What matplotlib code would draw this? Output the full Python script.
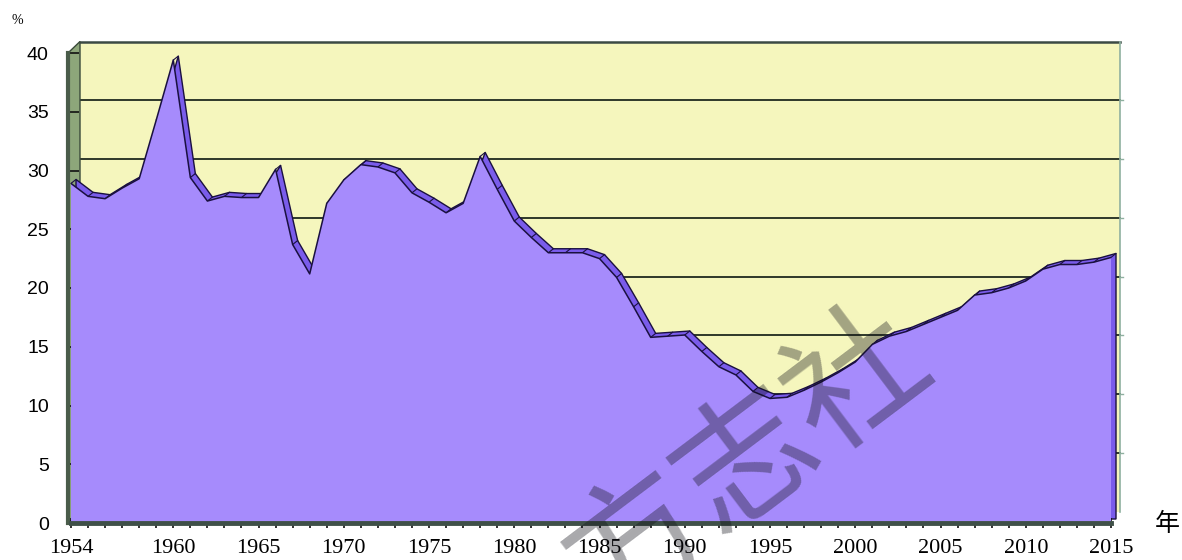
import matplotlib

matplotlib.use("Agg")
import matplotlib.pyplot as plt
from matplotlib.patches import Polygon, Rectangle
from matplotlib.transforms import ScaledTranslation

YEARS = list(range(1954, 2016))
RATE = [28.9, 27.8, 27.6, 28.5, 29.3, 34.3, 39.4, 29.4, 27.4, 27.8,
        27.7, 27.7, 30.1, 23.7, 21.2, 27.2, 29.2, 30.5, 30.3, 29.8,
        28.1, 27.3, 26.4, 27.2, 31.2, 28.4, 25.7, 24.3, 23.0, 23.0,
        23.0, 22.5, 20.9, 18.4, 15.8, 15.9, 16.0, 14.6, 13.3, 12.6,
        11.2, 10.6, 10.7, 11.3, 12.0, 12.8, 13.7, 15.2, 15.9, 16.3,
        16.9, 17.5, 18.1, 19.4, 19.6, 20.0, 20.6, 21.6, 22.0, 22.0,
        22.2, 22.6]
X_LABELS = [1954, 1960, 1965, 1970, 1975, 1980, 1985, 1990, 1995, 2000, 2005, 2010, 2015]
Y_TICKS = [0, 5, 10, 15, 20, 25, 30, 35, 40]

WALL_YELLOW = "#F5F6BD"
SIDE_GREEN = "#8DA67A"
AREA_PURPLE = "#A68BFC"
RIBBON_PURPLE = "#7A5CEB"
GRID_DARK = "#2E3829"

W, H = 1182, 560
fig = plt.figure(figsize=(W / 100, H / 100), dpi=100)
ax_left, ax_right, ax_bottom, ax_top = 71, 1111, 523, 53
ax = fig.add_axes([ax_left / W, 1 - ax_bottom / H, (ax_right - ax_left) / W, (ax_bottom - ax_top) / H])
x0, x1 = YEARS[0], YEARS[-1]
ax.set_xlim(x0, x1)
ax.set_ylim(0, 40)
ax.patch.set_visible(False)

# pixels per data unit, used for the fake 3-D depth
ppx = (ax_right - ax_left) / (x1 - x0)
ppy = (ax_bottom - ax_top) / 40
wall_dx, wall_dy = 9, 11.5
wall_tr = ax.transData + ScaledTranslation(wall_dx / 100, wall_dy / 100, fig.dpi_scale_trans)
depth_tr = ax.transData + ScaledTranslation(5 / 100, 4 / 100, fig.dpi_scale_trans)

# back wall with its gridlines
ax.add_patch(Rectangle((x0, 0), x1 - x0, 40, transform=wall_tr, facecolor=WALL_YELLOW,
                       edgecolor="none", zorder=0, clip_on=False))
for val in Y_TICKS[1:-1]:
    ax.plot([x0, x1], [val, val], transform=wall_tr, color=GRID_DARK, lw=1.4, zorder=0.5, clip_on=False)
ax.plot([x0, x1], [40, 40], transform=wall_tr, color="#3B4A44", lw=1.8, zorder=0.5, clip_on=False)
ax.plot([x1, x1], [0, 40], transform=wall_tr, color="#8FB0A0", lw=1.2, zorder=0.5, clip_on=False)
for val in Y_TICKS[1:-1]:
    ax.plot([x1, x1 + 3 / ppx], [val, val], transform=wall_tr, color="#8FB0A0", lw=1.0, zorder=0.5, clip_on=False)

# left side wall
side = Polygon([(x0 - 3 / ppx, 0), (x0 - 3 / ppx, 40),
                (x0 + wall_dx / ppx, 40 + wall_dy / ppy), (x0 + wall_dx / ppx, wall_dy / ppy)],
               closed=True, facecolor=SIDE_GREEN, edgecolor="#3A4A3A", lw=1.0, zorder=0.6, clip_on=False)
ax.add_patch(side)

# series depth (ribbon), then front face
area_pts = [(x0, 0)] + list(zip(YEARS, RATE)) + [(x1, 0)]
ax.add_patch(Polygon(area_pts, closed=True, transform=depth_tr, facecolor=RIBBON_PURPLE,
                     edgecolor="#1A1040", lw=1.0, zorder=1, clip_on=False))
for yr, val in zip(YEARS, RATE):
    ax.plot([yr, yr + 5 / ppx], [val, val + 4 / ppy], color="#1A1040", lw=0.8, zorder=1.5, clip_on=False)
ax.fill_between(YEARS, 0, RATE, facecolor=AREA_PURPLE, edgecolor="none", zorder=2)
ax.plot(YEARS, RATE, color="#1A1040", lw=1.1, zorder=2.5)

# axes
for name in ("top", "right"):
    ax.spines[name].set_visible(False)
ax.spines["left"].set_color("#4A5C4A")
ax.spines["left"].set_linewidth(3.0)
ax.spines["left"].set_bounds(0, 40)
ax.spines["left"].set_position(("outward", 2))
ax.spines["bottom"].set_color("#3F5048")
ax.spines["bottom"].set_linewidth(3.5)
ax.axhline(0, color="#111111", lw=1.0, zorder=3, clip_on=False)
for spine in ax.spines.values():
    spine.set_zorder(3)

ax.set_xticks(X_LABELS)
ax.set_xticks(YEARS, minor=True)
ax.set_xticklabels([str(y) for y in X_LABELS], family="Liberation Serif", fontsize=16)
ax.set_yticks(Y_TICKS)
ax.set_yticklabels([str(v) for v in Y_TICKS], family="Liberation Sans", fontsize=14)
ax.tick_params(axis="x", which="both", direction="inout", length=7, width=1.2, color="#111111", pad=8)
ax.tick_params(axis="y", direction="in", length=8, width=1.2, color="#111111", pad=14)

fig.text(17 / W, 1 - 20 / H, "%", fontsize=10, family="Liberation Serif", ha="center", va="center")
fig.text(1167 / W, 1 - 524 / H, "年", fontsize=18, family=["Noto Sans CJK SC", "DejaVu Sans"],
         ha="center", va="center")

# watermark, partly running off the bottom edge as in the scan
fig.text(748 / W, 1 - 462 / H, "方志社", fontsize=99, family=["Noto Sans CJK SC", "DejaVu Sans"],
         color="#101018", alpha=0.36, rotation=37, rotation_mode="anchor", ha="center", va="center",
         zorder=10)

fig.savefig("out.png", dpi=100)
